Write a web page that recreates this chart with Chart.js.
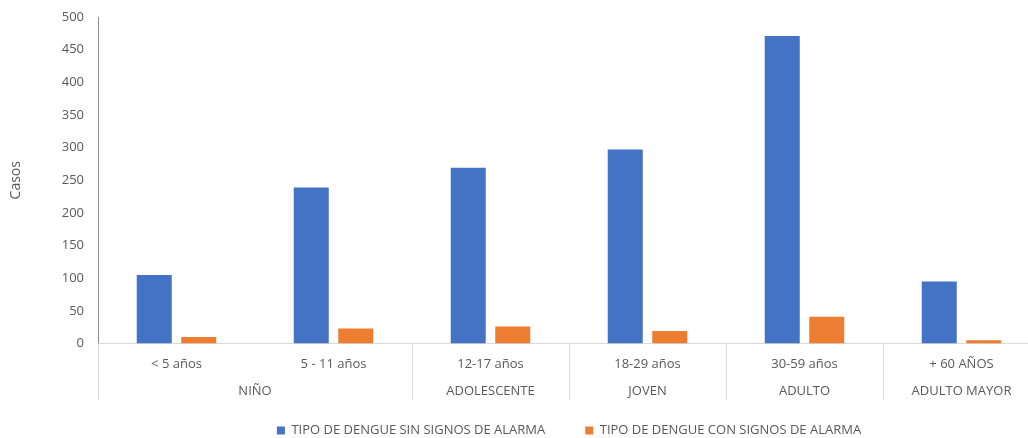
<!DOCTYPE html>
<html>
<head>
<meta charset="utf-8">
<script src="https://cdn.jsdelivr.net/npm/chart.js@4.4.0/dist/chart.umd.min.js"></script>
<style>
    html, body { margin: 0; padding: 0; background: #fff; overflow: hidden; }
    #wrap { width: 1028px; height: 438px; overflow: hidden; position: relative; }
    canvas { position: absolute; left: 0; top: 0; }
</style>
</head>
<body>
<div id="wrap"><canvas id="chart" width="1040" height="447"></canvas></div>
<script>
// Chart data
const ageLabels = ['< 5 años', '5 - 11 años', '12-17 años', '18-29 años', '30-59 años', '+ 60 AÑOS'];
const groupNames = ['NIÑO', 'ADOLESCENTE', 'JOVEN', 'ADULTO', 'ADULTO MAYOR'];
const groupSpans = [2, 1, 1, 1, 1];
const sinSignos = [105, 239, 269, 297, 471, 95];
const conSignos = [10, 23, 26, 19, 41, 5];
const yTicks = [0, 50, 100, 150, 200, 250, 300, 350, 400, 450, 500];

const textColor = '#595959';
const lineColor = '#d9d9d9';
const fontFamily = '"Open Sans", Lato, sans-serif';

// Draws the second level of the x axis (groups) and the separators
const groupAxis = {
    id: 'groupAxis',
    afterDraw(chart) {
        const ctx = chart.ctx;
        const x = chart.scales.x;
        const half = (x.getPixelForValue(1) - x.getPixelForValue(0)) / 2;
        const top = chart.chartArea.bottom;
        const bottom = top + 56.5;

        ctx.save();
        ctx.strokeStyle = lineColor;
        ctx.lineWidth = 1;
        ctx.fillStyle = textColor;
        ctx.font = '13px ' + fontFamily;
        ctx.textAlign = 'center';
        ctx.textBaseline = 'middle';

        let start = 0;
        groupSpans.forEach(function(span, g) {
            const left = x.getPixelForValue(start) - half;
            const right = x.getPixelForValue(start + span - 1) + half;
            ctx.beginPath();
            ctx.moveTo(Math.round(left) + 0.5, top);
            ctx.lineTo(Math.round(left) + 0.5, bottom);
            ctx.stroke();
            ctx.fillText(groupNames[g], (left + right) / 2, top + 47.5);
            start += span;
        });
        ctx.restore();
    }
};

const ctx = document.getElementById('chart').getContext('2d');
new Chart(ctx, {
    type: 'bar',
    data: {
        labels: ageLabels,
        datasets: [{
            label: 'TIPO DE DENGUE SIN SIGNOS DE ALARMA',
            data: sinSignos,
            backgroundColor: '#4472C4'
        }, {
            label: 'TIPO DE DENGUE CON SIGNOS DE ALARMA',
            data: conSignos,
            backgroundColor: '#ED7D31'
        }]
    },
    options: {
        responsive: false,
        animation: false,
        categoryPercentage: 0.567,
        barPercentage: 0.787,
        layout: { padding: { top: 17, left: 0, right: 0, bottom: 0 } },
        plugins: {
            legend: {
                position: 'bottom',
                fullSize: false,
                labels: {
                    boxWidth: 8,
                    boxHeight: 8,
                    padding: 40,
                    color: textColor,
                    font: { family: fontFamily, size: 13 }
                }
            },
            tooltip: { enabled: false }
        },
        scales: {
            x: {
                grid: { display: false },
                border: { color: lineColor, width: 1 },
                ticks: {
                    color: textColor,
                    padding: 5,
                    maxRotation: 0,
                    font: { family: fontFamily, size: 13 }
                },
                afterFit: function(scale) { scale.height = 40.5; }
            },
            y: {
                min: 0,
                max: 500,
                afterBuildTicks: function(scale) {
                    scale.ticks = yTicks.map(function(v) { return { value: v }; });
                },
                // hidden tick marks keep the labels away from the axis line
                grid: { display: false, drawTicks: true, tickLength: 14 },
                border: { color: '#8c8c8c', width: 1 },
                ticks: {
                    color: textColor,
                    padding: 0,
                    font: { family: fontFamily, size: 13 }
                },
                title: {
                    display: true,
                    text: 'Casos',
                    color: textColor,
                    padding: { top: 8, bottom: 0 },
                    font: { family: fontFamily, size: 14 }
                },
                afterFit: function(scale) { scale.width = 98; }
            }
        }
    },
    plugins: [groupAxis]
});
</script>
</body>
</html>
